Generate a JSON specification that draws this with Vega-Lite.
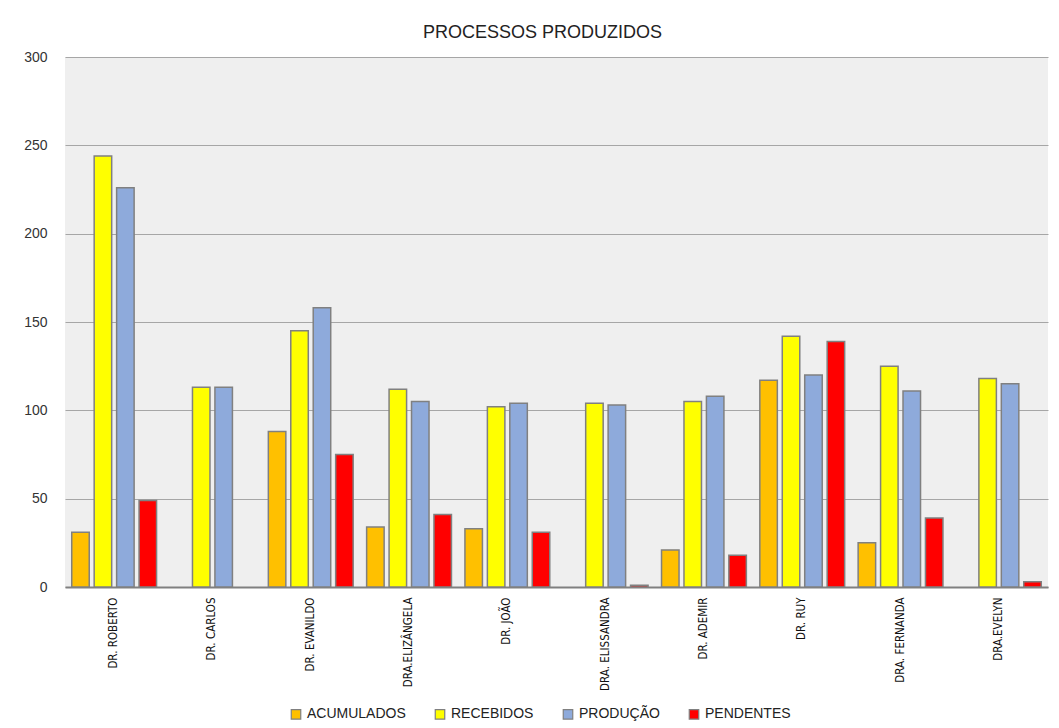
{
  "$schema": "https://vega.github.io/schema/vega-lite/v6.json",
  "width": 983,
  "height": 530,
  "autosize": {"type": "none"},
  "padding": {"left": 65, "top": 57, "right": 11, "bottom": 141},
  "background": "white",
  "title": {
    "text": "PROCESSOS PRODUZIDOS",
    "font": "Liberation Sans",
    "fontSize": 18,
    "fontWeight": "normal",
    "color": "#222222",
    "anchor": "middle",
    "dx": -14,
    "offset": 8
  },
  "data": {
    "values": [
      {"juiz": "DR. ROBERTO", "serie": "ACUMULADOS", "valor": 31},
      {"juiz": "DR. ROBERTO", "serie": "RECEBIDOS", "valor": 244},
      {"juiz": "DR. ROBERTO", "serie": "PRODUÇÃO", "valor": 226},
      {"juiz": "DR. ROBERTO", "serie": "PENDENTES", "valor": 49},
      {"juiz": "DR. CARLOS", "serie": "RECEBIDOS", "valor": 113},
      {"juiz": "DR. CARLOS", "serie": "PRODUÇÃO", "valor": 113},
      {"juiz": "DR. EVANILDO", "serie": "ACUMULADOS", "valor": 88},
      {"juiz": "DR. EVANILDO", "serie": "RECEBIDOS", "valor": 145},
      {"juiz": "DR. EVANILDO", "serie": "PRODUÇÃO", "valor": 158},
      {"juiz": "DR. EVANILDO", "serie": "PENDENTES", "valor": 75},
      {"juiz": "DRA.ELIZÂNGELA", "serie": "ACUMULADOS", "valor": 34},
      {"juiz": "DRA.ELIZÂNGELA", "serie": "RECEBIDOS", "valor": 112},
      {"juiz": "DRA.ELIZÂNGELA", "serie": "PRODUÇÃO", "valor": 105},
      {"juiz": "DRA.ELIZÂNGELA", "serie": "PENDENTES", "valor": 41},
      {"juiz": "DR. JOÃO", "serie": "ACUMULADOS", "valor": 33},
      {"juiz": "DR. JOÃO", "serie": "RECEBIDOS", "valor": 102},
      {"juiz": "DR. JOÃO", "serie": "PRODUÇÃO", "valor": 104},
      {"juiz": "DR. JOÃO", "serie": "PENDENTES", "valor": 31},
      {"juiz": "DRA. ELISSANDRA", "serie": "RECEBIDOS", "valor": 104},
      {"juiz": "DRA. ELISSANDRA", "serie": "PRODUÇÃO", "valor": 103},
      {"juiz": "DRA. ELISSANDRA", "serie": "PENDENTES", "valor": 1},
      {"juiz": "DR. ADEMIR", "serie": "ACUMULADOS", "valor": 21},
      {"juiz": "DR. ADEMIR", "serie": "RECEBIDOS", "valor": 105},
      {"juiz": "DR. ADEMIR", "serie": "PRODUÇÃO", "valor": 108},
      {"juiz": "DR. ADEMIR", "serie": "PENDENTES", "valor": 18},
      {"juiz": "DR. RUY", "serie": "ACUMULADOS", "valor": 117},
      {"juiz": "DR. RUY", "serie": "RECEBIDOS", "valor": 142},
      {"juiz": "DR. RUY", "serie": "PRODUÇÃO", "valor": 120},
      {"juiz": "DR. RUY", "serie": "PENDENTES", "valor": 139},
      {"juiz": "DRA. FERNANDA", "serie": "ACUMULADOS", "valor": 25},
      {"juiz": "DRA. FERNANDA", "serie": "RECEBIDOS", "valor": 125},
      {"juiz": "DRA. FERNANDA", "serie": "PRODUÇÃO", "valor": 111},
      {"juiz": "DRA. FERNANDA", "serie": "PENDENTES", "valor": 39},
      {"juiz": "DRA.EVELYN", "serie": "RECEBIDOS", "valor": 118},
      {"juiz": "DRA.EVELYN", "serie": "PRODUÇÃO", "valor": 115},
      {"juiz": "DRA.EVELYN", "serie": "PENDENTES", "valor": 3}
    ]
  },
  "mark": {"type": "bar", "stroke": "#808080", "strokeWidth": 1.5},
  "encoding": {
    "x": {
      "field": "juiz",
      "type": "nominal",
      "sort": null,
      "scale": {"paddingInner": 0, "paddingOuter": 0},
      "axis": {
        "title": null,
        "labelAngle": -90,
        "labelFont": "DejaVu Sans Condensed, Roboto Condensed, Liberation Sans Narrow, sans-serif",
        "labelFontSize": 11.5,
        "labelColor": "#111111",
        "labelPadding": 10,
        "ticks": false,
        "domainColor": "#808080",
        "domainWidth": 2,
        "grid": false
      }
    },
    "xOffset": {
      "field": "serie",
      "type": "nominal",
      "scale": {
        "domain": ["ACUMULADOS", "RECEBIDOS", "PRODUÇÃO", "PENDENTES"],
        "paddingInner": 0.22,
        "paddingOuter": 0.3
      }
    },
    "y": {
      "field": "valor",
      "type": "quantitative",
      "scale": {"domain": [0, 300], "nice": false},
      "axis": {
        "title": null,
        "values": [0, 50, 100, 150, 200, 250, 300],
        "labelFont": "Liberation Sans",
        "labelFontSize": 14,
        "labelColor": "#333333",
        "labelPadding": 18,
        "ticks": false,
        "domain": false,
        "grid": true,
        "gridColor": "#a6a6a6",
        "gridWidth": 1.2
      }
    },
    "color": {
      "field": "serie",
      "type": "nominal",
      "scale": {
        "domain": ["ACUMULADOS", "RECEBIDOS", "PRODUÇÃO", "PENDENTES"],
        "range": ["#ffc000", "#ffff00", "#8eaadb", "#ff0000"]
      },
      "legend": {
        "title": null,
        "orient": "none",
        "direction": "horizontal",
        "legendX": 224,
        "legendY": 650,
        "symbolType": "square",
        "symbolSize": 90,
        "symbolStrokeColor": "#808080",
        "symbolStrokeWidth": 1.2,
        "labelFont": "Liberation Sans",
        "labelFontSize": 14,
        "labelColor": "#222222",
        "labelOffset": 4,
        "columnPadding": 26
      }
    }
  },
  "config": {
    "view": {"fill": "#efefef", "stroke": null}
  }
}
